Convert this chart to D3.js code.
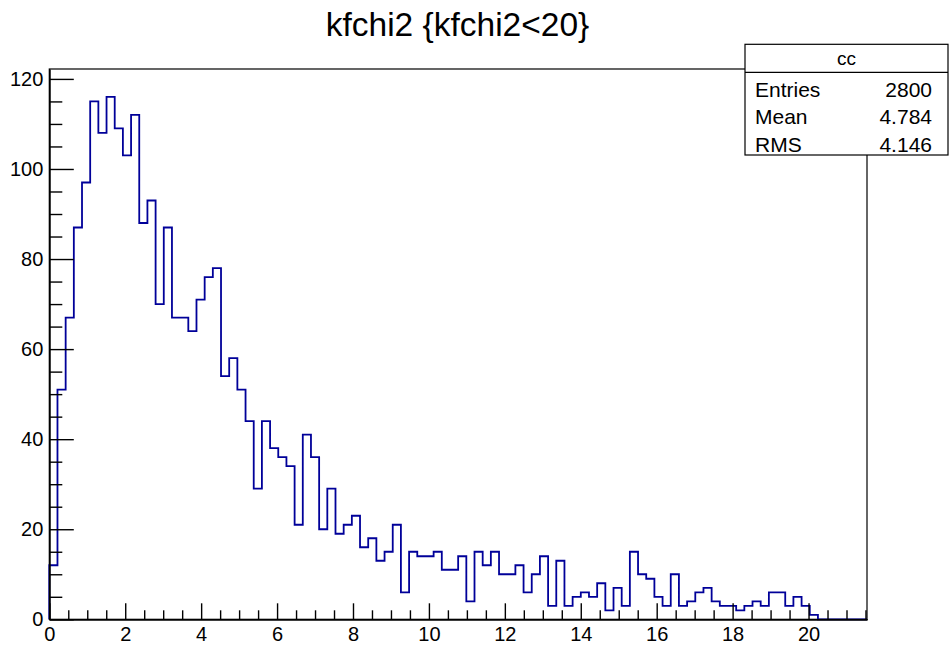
<!DOCTYPE html>
<html>
<head>
<meta charset="utf-8">
<script src="https://cdn.jsdelivr.net/npm/d3@7"></script>
<style>
  html, body { margin: 0; padding: 0; background: #fff; }
  svg { display: block; font-family: "Liberation Sans", Arial, Helvetica, sans-serif; }
</style>
</head>
<body>
<svg id="chart" width="949" height="651"></svg>
<script>
// ---- data ----
const titleText = "kfchi2 {kfchi2<20}";
const xMin = 0;
const xMax = 21.54;
const nBins = 100;
const counts = [
  12, 51, 67, 87, 97, 115, 108, 116, 109, 103,
  112, 88, 93, 70, 87, 67, 67, 64, 71, 76,
  78, 54, 58, 51, 44, 29, 44, 38, 36, 34,
  21, 41, 36, 20, 29, 19, 21, 23, 16, 18,
  13, 15, 21, 6, 15, 14, 14, 15, 11, 11,
  14, 4, 15, 12, 15, 10, 10, 12, 6, 10,
  14, 3, 13, 3, 5, 6, 5, 8, 2, 7,
  3, 15, 10, 9, 5, 3, 10, 3, 4, 6,
  7, 4, 3, 3, 2, 3, 4, 3, 6, 6,
  3, 5, 3, 1, 0, 0, 0, 0, 0, 0
];
const yMax = 122.2;
const xMajorTicks = [0, 2, 4, 6, 8, 10, 12, 14, 16, 18, 20];
const xMinorStep = 0.5;
const yMajorTicks = [0, 20, 40, 60, 80, 100, 120];
const yMinorStep = 5;
const statsName = "cc";
const statsLabels = ["Entries", "Mean", "RMS"];
const statsValues = ["2800", "4.784", "4.146"];

// ---- layout ----
const frame = { left: 49.3, right: 867, top: 69, bottom: 619.3 };
const svg = d3.select("#chart");

const x = d3.scaleLinear().domain([xMin, xMax]).range([frame.left, frame.right]);
const y = d3.scaleLinear().domain([0, yMax]).range([frame.bottom, frame.top]);

// frame
svg.append("rect")
  .attr("x", frame.left).attr("y", frame.top)
  .attr("width", frame.right - frame.left).attr("height", frame.bottom - frame.top)
  .attr("fill", "none").attr("stroke", "#000").attr("stroke-width", 1.2);

// histogram outline
const bw = (xMax - xMin) / nBins;
const pts = [[x(xMin), y(0)]];
counts.forEach((c, i) => {
  pts.push([x(xMin + i * bw), y(c)]);
  pts.push([x(xMin + (i + 1) * bw), y(c)]);
});
pts.push([x(xMax), y(0)]);
svg.append("path")
  .attr("d", d3.line()(pts))
  .attr("fill", "none")
  .attr("stroke", "#000099")
  .attr("stroke-width", 1.8)
  .attr("stroke-linejoin", "miter");

// minor ticks
const xMinor = d3.range(xMin, xMax + 1e-9, xMinorStep).filter(v => Math.abs(v / 2 - Math.round(v / 2)) > 1e-6);
const yMinor = d3.range(0, yMax, yMinorStep).filter(v => v % 20 !== 0);

const xAxisMinor = d3.axisBottom(x).tickValues(xMinor).tickSizeInner(-9).tickSizeOuter(0).tickFormat("");
const xAxisMajor = d3.axisBottom(x).tickValues(xMajorTicks).tickSizeInner(-16).tickSizeOuter(0).tickPadding(8).tickFormat(d3.format("d"));
const yAxisMinor = d3.axisLeft(y).tickValues(yMinor).tickSizeInner(-13).tickSizeOuter(0).tickFormat("");
const yAxisMajor = d3.axisLeft(y).tickValues(yMajorTicks).tickSizeInner(-24.5).tickSizeOuter(0).tickPadding(6).tickFormat(d3.format("d"));

function styleAxis(g) {
  g.select(".domain").attr("stroke", "#000").attr("stroke-width", 1.4);
  g.selectAll(".tick line").attr("stroke", "#000").attr("stroke-width", 1.4);
  g.selectAll(".tick text").attr("fill", "#000").style("font-size", "20px")
    .style("font-family", '"Liberation Sans", Arial, Helvetica, sans-serif');
}

svg.append("g").attr("transform", `translate(0,${frame.bottom})`).call(xAxisMinor).call(styleAxis);
svg.append("g").attr("transform", `translate(0,${frame.bottom})`).call(xAxisMajor).call(styleAxis);
svg.append("g").attr("transform", `translate(${frame.left},0)`).call(yAxisMinor).call(styleAxis);
svg.append("g").attr("transform", `translate(${frame.left},0)`).call(yAxisMajor).call(styleAxis);

// title
svg.append("text")
  .attr("x", 457.5).attr("y", 36)
  .attr("text-anchor", "middle")
  .style("font-size", "33.5px")
  .attr("fill", "#000")
  .text(titleText);

// stats box
const sb = { left: 745, right: 948, top: 44.3, head: 72.3, bottom: 155 };
svg.append("rect")
  .attr("x", sb.left).attr("y", sb.top)
  .attr("width", sb.right - sb.left).attr("height", sb.bottom - sb.top)
  .attr("fill", "#fff").attr("stroke", "#000").attr("stroke-width", 1.2);
svg.append("line")
  .attr("x1", sb.left).attr("x2", sb.right).attr("y1", sb.head).attr("y2", sb.head)
  .attr("stroke", "#000").attr("stroke-width", 1.2);
svg.append("text")
  .attr("x", (sb.left + sb.right) / 2).attr("y", 65)
  .attr("text-anchor", "middle").style("font-size", "19px").text(statsName);
const rowY = d3.scalePoint().domain(statsLabels).range([96.5, 151.5]);
statsLabels.forEach((lab, i) => {
  svg.append("text").attr("x", 755).attr("y", rowY(lab))
    .style("font-size", "21px").text(lab);
  svg.append("text").attr("x", 932).attr("y", rowY(lab))
    .attr("text-anchor", "end").style("font-size", "21px").text(statsValues[i]);
});
</script>
</body>
</html>
